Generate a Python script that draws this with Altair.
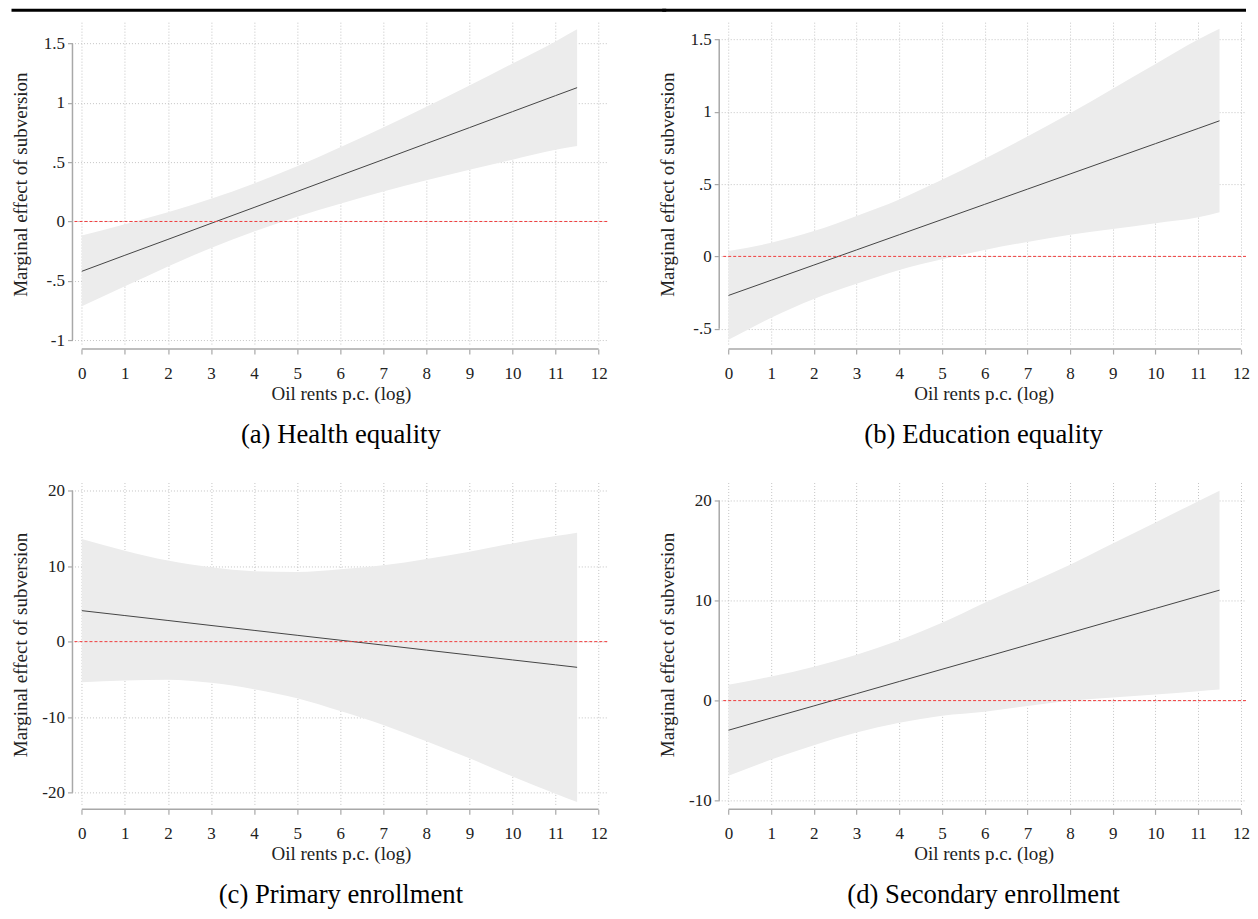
import altair as alt
import pandas as pd

# ---------------- data ----------------
x_vals = [0, 1, 2, 3, 4, 5, 6, 7, 8, 9, 10, 11, 11.5]

a_est = [-0.42, -0.285, -0.151, -0.016, 0.118, 0.253, 0.388, 0.522, 0.657, 0.791, 0.926, 1.061, 1.128]
a_hi = [-0.118, -0.023, 0.077, 0.191, 0.321, 0.466, 0.626, 0.792, 0.967, 1.146, 1.331, 1.518, 1.62]
a_lo = [-0.715, -0.547, -0.379, -0.223, -0.085, 0.04, 0.15, 0.252, 0.347, 0.436, 0.521, 0.604, 0.636]

b_est = [-0.27, -0.165, -0.06, 0.045, 0.15, 0.255, 0.36, 0.465, 0.57, 0.675, 0.78, 0.885, 0.938]
b_hi = [0.037, 0.094, 0.175, 0.28, 0.394, 0.53, 0.675, 0.83, 0.99, 1.16, 1.33, 1.50, 1.574]
b_lo = [-0.577, -0.424, -0.295, -0.19, -0.094, -0.02, 0.045, 0.10, 0.15, 0.19, 0.23, 0.27, 0.306]

c_est = [4.10, 3.45, 2.80, 2.14, 1.49, 0.84, 0.19, -0.46, -1.12, -1.77, -2.42, -3.07, -3.40]
c_hi = [13.58, 12.04, 10.72, 9.83, 9.31, 9.22, 9.57, 10.1, 10.94, 11.9, 13.0, 13.98, 14.42]
c_lo = [-5.38, -5.14, -5.05, -5.45, -6.3, -7.5, -9.19, -11.02, -13.18, -15.44, -17.84, -20.12, -21.22]

d_est = [-2.96, -1.74, -0.53, 0.69, 1.91, 3.13, 4.34, 5.56, 6.78, 8.0, 9.21, 10.43, 11.04]
d_hi = [1.59, 2.41, 3.39, 4.58, 6.03, 7.77, 9.79, 11.66, 13.58, 15.7, 17.81, 19.93, 20.98]
d_lo = [-7.51, -5.89, -4.45, -3.2, -2.21, -1.51, -1.11, -0.54, -0.02, 0.3, 0.61, 0.93, 1.1]

x_ticks = [0, 1, 2, 3, 4, 5, 6, 7, 8, 9, 10, 11, 12]
a_yticks = [-1, -0.5, 0, 0.5, 1, 1.5]
b_yticks = [-0.5, 0, 0.5, 1, 1.5]
c_yticks = [-20, -10, 0, 10, 20]
d_yticks = [-10, 0, 10, 20]

captions = ["(a) Health equality", "(b) Education equality",
            "(c) Primary enrollment", "(d) Secondary enrollment"]

X_TITLE = "Oil rents p.c. (log)"
Y_TITLE = "Marginal effect of subversion"

FONT = "Liberation Serif"
H = 324
W_L, XDOM_L = 533, [-0.17, 12.2]     # left column
W_R, XDOM_R = 525, [-0.17, 12.12]    # right column (must fit the page)
S_H = 114          # gap between left plot's right edge and right plot's left edge
LEFT_EXT = 63      # top rule starts this far left of the left plot

LABEL_EXPR = "(datum.value < 0 ? '-' : '') + replace(format(abs(datum.value), '~g'), '0.', '.')"


def panel(est, lo, hi, ydom, yticks, caption, width, xdom, rule_from, rule_to, rule_visible):
    df = pd.DataFrame({"x": x_vals, "est": est, "lo": lo, "hi": hi})
    xscale = alt.Scale(domain=xdom, nice=False, zero=False)
    yscale = alt.Scale(domain=ydom, nice=False, zero=False)
    xaxis = alt.Axis(values=x_ticks, title=X_TITLE, grid=True, domain=False,
                     offset=3, tickSize=5, labelPadding=11, titlePadding=3,
                     format="d")
    yaxis = alt.Axis(values=yticks, title=Y_TITLE, grid=True, domain=False,
                     offset=2, tickSize=5, labelPadding=3,
                     labelExpr=LABEL_EXPR, titleX=-52, titleBaseline="middle")
    band = alt.Chart(df).mark_area(color="#ececec", interpolate="monotone").encode(
        x=alt.X("x:Q", scale=xscale, axis=xaxis),
        y=alt.Y("lo:Q", scale=yscale, axis=yaxis),
        y2="hi:Q",
    )
    line = alt.Chart(df).mark_line(color="#444444", strokeWidth=1).encode(
        x="x:Q", y="est:Q"
    )
    one = pd.DataFrame({"k": [0]})
    zero = alt.Chart(one).mark_rule(color="#f03c3c", strokeDash=[3, 2], strokeWidth=1).encode(
        y=alt.datum(0)
    )
    yline = alt.Chart(one).mark_rule(color="#a8a8a8", strokeWidth=1.5).encode(
        x=alt.value(-2), y=alt.datum(min(yticks)), y2=alt.datum(max(yticks))
    )
    xline = alt.Chart(one).mark_rule(color="#a8a8a8", strokeWidth=1.5).encode(
        y=alt.value(H + 3), x=alt.datum(0), x2=alt.datum(12)
    )
    layers = [band, line, zero, yline, xline]
    if rule_visible:
        # black page rule at the very top of the figure
        layers.append(
            alt.Chart(one).mark_rule(color="black", strokeWidth=3).encode(
                x=alt.value(rule_from), x2=alt.value(rule_to), y=alt.value(-12)
            )
        )
    return alt.layer(*layers).properties(
        width=width, height=H,
        title=alt.TitleParams(text=caption, orient="bottom", anchor="middle",
                              font=FONT, fontSize=26.7, fontWeight="normal",
                              color="black", offset=19),
    )


half = S_H / 2 + 2
pa = panel(a_est, a_lo, a_hi, [-1.05, 1.68], a_yticks, captions[0],
           W_L, XDOM_L, -LEFT_EXT, W_L + half, True)
pb = panel(b_est, b_lo, b_hi, [-0.62, 1.62], b_yticks, captions[1],
           W_R, XDOM_R, -half, W_R, True)
pc = panel(c_est, c_lo, c_hi, [-21.8, 21.06], c_yticks, captions[2],
           W_L, XDOM_L, 0, 0, False)
pd_ = panel(d_est, d_lo, d_hi, [-10.57, 21.8], d_yticks, captions[3],
            W_R, XDOM_R, 0, 0, False)

row1 = alt.hconcat(pa, pb, spacing=S_H, bounds="flush")
row2 = alt.hconcat(pc, pd_, spacing=S_H, bounds="flush")

chart = alt.vconcat(row1, row2, spacing=32.5).properties(
    padding={"left": 1.5, "top": 0, "right": 0, "bottom": 0}
).configure_view(strokeWidth=0).configure_axis(
    gridColor="#c4c4c4", gridDash=[1, 2], gridWidth=1,
    tickColor="#a8a8a8", tickWidth=1.2,
    labelFont=FONT, labelFontSize=17, labelColor="#222222",
    titleFont=FONT, titleFontSize=19, titleFontWeight="normal", titleColor="#222222",
)

chart.save("out.html", embed_options={"renderer": "svg", "actions": False})
